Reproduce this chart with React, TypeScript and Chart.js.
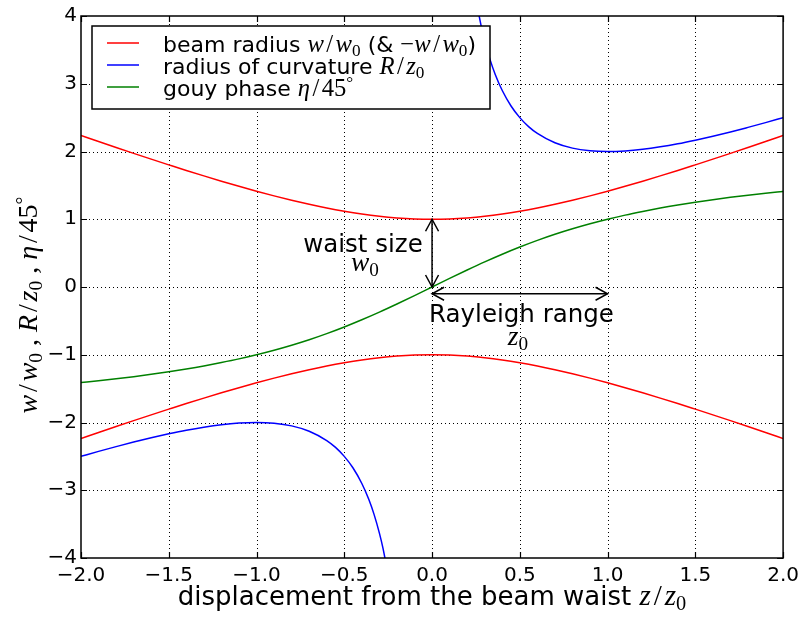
import React, { useEffect, useRef } from 'react';
import { Chart, registerables } from 'chart.js';

Chart.register(...registerables);

// ---------- data ----------
const zValues = [
  -2.0, -1.9, -1.8, -1.7, -1.6, -1.5, -1.4, -1.3, -1.2, -1.1, -1.0,
  -0.9, -0.8, -0.7, -0.6, -0.5, -0.4, -0.3, -0.2, -0.1, 0.0,
  0.1, 0.2, 0.3, 0.4, 0.5, 0.6, 0.7, 0.8, 0.9, 1.0,
  1.1, 1.2, 1.3, 1.4, 1.5, 1.6, 1.7, 1.8, 1.9, 2.0,
];
const beamRadiusUpper = [
  2.236, 2.147, 2.059, 1.972, 1.887, 1.803, 1.720, 1.640, 1.562, 1.487, 1.414,
  1.345, 1.281, 1.221, 1.166, 1.118, 1.077, 1.044, 1.020, 1.005, 1.000,
  1.005, 1.020, 1.044, 1.077, 1.118, 1.166, 1.221, 1.281, 1.345, 1.414,
  1.487, 1.562, 1.640, 1.720, 1.803, 1.887, 1.972, 2.059, 2.147, 2.236,
];
const beamRadiusLower = [
  -2.236, -2.147, -2.059, -1.972, -1.887, -1.803, -1.720, -1.640, -1.562, -1.487, -1.414,
  -1.345, -1.281, -1.221, -1.166, -1.118, -1.077, -1.044, -1.020, -1.005, -1.000,
  -1.005, -1.020, -1.044, -1.077, -1.118, -1.166, -1.221, -1.281, -1.345, -1.414,
  -1.487, -1.562, -1.640, -1.720, -1.803, -1.887, -1.972, -2.059, -2.147, -2.236,
];
const gouyPhase = [
  -1.410, -1.383, -1.354, -1.323, -1.289, -1.251, -1.210, -1.165, -1.115, -1.061, -1.000,
  -0.933, -0.859, -0.778, -0.688, -0.590, -0.484, -0.371, -0.251, -0.127, 0.000,
  0.127, 0.251, 0.371, 0.484, 0.590, 0.688, 0.778, 0.859, 0.933, 1.000,
  1.061, 1.115, 1.165, 1.210, 1.251, 1.289, 1.323, 1.354, 1.383, 1.410,
];
const curvatureZPos = [
  0.25, 0.28, 0.3, 0.33, 0.36, 0.4, 0.45, 0.5, 0.55, 0.6, 0.7, 0.8, 0.9, 1.0,
  1.1, 1.2, 1.3, 1.4, 1.5, 1.6, 1.7, 1.8, 1.9, 2.0,
];
const curvaturePos = [
  4.250, 3.851, 3.633, 3.360, 3.138, 2.900, 2.672, 2.500, 2.368, 2.267, 2.129, 2.050, 2.011, 2.000,
  2.009, 2.033, 2.069, 2.114, 2.167, 2.225, 2.288, 2.356, 2.426, 2.500,
];
const curvatureZNeg = [
  -2.0, -1.9, -1.8, -1.7, -1.6, -1.5, -1.4, -1.3, -1.2, -1.1, -1.0,
  -0.9, -0.8, -0.7, -0.6, -0.55, -0.5, -0.45, -0.4, -0.36, -0.33, -0.3, -0.28, -0.25,
];
const curvatureNeg = [
  -2.500, -2.426, -2.356, -2.288, -2.225, -2.167, -2.114, -2.069, -2.033, -2.009, -2.000,
  -2.011, -2.050, -2.129, -2.267, -2.368, -2.500, -2.672, -2.900, -3.138, -3.360, -3.633, -3.851, -4.250,
];
const xTickValues = [-2.0, -1.5, -1.0, -0.5, 0.0, 0.5, 1.0, 1.5, 2.0];
const xTickLabels = ['\u22122.0', '\u22121.5', '\u22121.0', '\u22120.5', '0.0', '0.5', '1.0', '1.5', '2.0'];
const yTickValues = [-4, -3, -2, -1, 0, 1, 2, 3, 4];
const yTickLabels = ['\u22124', '\u22123', '\u22122', '\u22121', '0', '1', '2', '3', '4'];

const RED = '#ff0000';
const BLUE = '#0000ff';
const GREEN = '#008000';

// ---------- rich text helpers ----------
type Kind = 'sans' | 'mi' | 'mr' | 'sl' | 'sub' | 'sup';
type Seg = { t: string; k: Kind };
const MATH_SCALE = 1.12;
function segFont(k: Kind, size: number) {
  const m = size * MATH_SCALE;
  switch (k) {
    case 'sans': return `${size}px "DejaVu Sans"`;
    case 'mi': return `italic ${m}px "Liberation Serif"`;
    case 'mr': return `${m}px "Liberation Serif"`;
    case 'sl': return `${m}px "Liberation Serif"`;
    case 'sub': return `${m * 0.7}px "Liberation Serif"`;
    case 'sup': return `${m * 0.7}px "Liberation Serif"`;
  }
}
function segPad(k: Kind, size: number) {
  if (k === 'sl') return size * MATH_SCALE * 0.1;
  return 0;
}
function segDy(k: Kind, size: number) {
  if (k === 'sub') return size * 0.2;
  if (k === 'sup') return -size * 0.33;
  return 0;
}
function segWidth(ctx: CanvasRenderingContext2D, s: Seg, size: number) {
  ctx.font = segFont(s.k, size);
  return ctx.measureText(s.t).width + 2 * segPad(s.k, size);
}
function measureRich(ctx: CanvasRenderingContext2D, segs: Seg[], size: number) {
  let w = 0;
  for (const s of segs) w += segWidth(ctx, s, size);
  return w;
}
function drawRich(ctx: CanvasRenderingContext2D, segs: Seg[], x: number, y: number, size: number, align: 'left' | 'center') {
  const total = measureRich(ctx, segs, size);
  let cx = align === 'center' ? x - total / 2 : x;
  ctx.textBaseline = 'alphabetic';
  ctx.textAlign = 'left';
  ctx.fillStyle = '#000';
  for (const s of segs) {
    const w = segWidth(ctx, s, size);
    ctx.font = segFont(s.k, size);
    ctx.fillText(s.t, cx + segPad(s.k, size), y + segDy(s.k, size));
    cx += w;
  }
}

const legendRows: { color: string; segs: Seg[] }[] = [
  { color: RED, segs: [
    { t: 'beam radius ', k: 'sans' }, { t: 'w', k: 'mi' }, { t: '/', k: 'sl' }, { t: 'w', k: 'mi' }, { t: '0', k: 'sub' },
    { t: ' (& ', k: 'sans' }, { t: '\u2212', k: 'mr' }, { t: 'w', k: 'mi' }, { t: '/', k: 'sl' }, { t: 'w', k: 'mi' }, { t: '0', k: 'sub' },
    { t: ')', k: 'sans' },
  ] },
  { color: BLUE, segs: [
    { t: 'radius of curvature ', k: 'sans' }, { t: 'R', k: 'mi' }, { t: '/', k: 'sl' }, { t: 'z', k: 'mi' }, { t: '0', k: 'sub' },
  ] },
  { color: GREEN, segs: [
    { t: 'gouy phase ', k: 'sans' }, { t: '\u03b7', k: 'mi' }, { t: '/', k: 'sl' }, { t: '45', k: 'mr' }, { t: '\u00b0', k: 'sup' },
  ] },
];

const xTitle: Seg[] = [
  { t: 'displacement from the beam waist ', k: 'sans' }, { t: 'z', k: 'mi' }, { t: '/', k: 'sl' }, { t: 'z', k: 'mi' }, { t: '0', k: 'sub' },
];
const yTitle: Seg[] = [
  { t: 'w', k: 'mi' }, { t: '/', k: 'sl' }, { t: 'w', k: 'mi' }, { t: '0', k: 'sub' }, { t: ' , ', k: 'mr' },
  { t: 'R', k: 'mi' }, { t: '/', k: 'sl' }, { t: 'z', k: 'mi' }, { t: '0', k: 'sub' }, { t: ' , ', k: 'mr' },
  { t: '\u03b7', k: 'mi' }, { t: '/', k: 'sl' }, { t: '45', k: 'mr' }, { t: '\u00b0', k: 'sup' },
];

function arrowHead(ctx: CanvasRenderingContext2D, tx: number, ty: number, fx: number, fy: number) {
  const dx = tx - fx, dy = ty - fy;
  const L = Math.hypot(dx, dy) || 1;
  const ux = dx / L, uy = dy / L;
  const len = 12, hw = 6.5;
  ctx.beginPath();
  ctx.moveTo(tx - ux * len + uy * hw, ty - uy * len - ux * hw);
  ctx.lineTo(tx, ty);
  ctx.lineTo(tx - ux * len - uy * hw, ty - uy * len + ux * hw);
  ctx.stroke();
}
function doubleArrow(ctx: CanvasRenderingContext2D, x1: number, y1: number, x2: number, y2: number) {
  ctx.beginPath();
  ctx.moveTo(x1, y1);
  ctx.lineTo(x2, y2);
  ctx.stroke();
  arrowHead(ctx, x1, y1, x2, y2);
  arrowHead(ctx, x2, y2, x1, y1);
}

const decorPlugin = {
  id: 'decor',
  beforeDatasetsDraw(chart: any) {
    const { ctx, chartArea: a, scales } = chart;
    ctx.save();
    ctx.strokeStyle = '#000';
    ctx.lineWidth = 1;
    ctx.setLineDash([1, 3]);
    for (const v of xTickValues.slice(1, -1)) {
      const px = Math.round(scales.x.getPixelForValue(v)) + 0.5;
      ctx.beginPath(); ctx.moveTo(px, a.top); ctx.lineTo(px, a.bottom); ctx.stroke();
    }
    for (const v of yTickValues.slice(1, -1)) {
      const py = Math.round(scales.y.getPixelForValue(v)) + 0.5;
      ctx.beginPath(); ctx.moveTo(a.left, py); ctx.lineTo(a.right, py); ctx.stroke();
    }
    ctx.restore();
  },
  afterDraw(chart: any) {
    const { ctx, chartArea: a, scales } = chart;
    const X = (v: number) => scales.x.getPixelForValue(v);
    const Y = (v: number) => scales.y.getPixelForValue(v);
    ctx.save();
    // ticks (inward, all four sides)
    ctx.strokeStyle = '#000';
    ctx.lineWidth = 1.2;
    const tl = 6;
    for (const v of xTickValues) {
      const px = Math.round(X(v)) + 0.5;
      ctx.beginPath();
      ctx.moveTo(px, a.bottom); ctx.lineTo(px, a.bottom - tl);
      ctx.moveTo(px, a.top); ctx.lineTo(px, a.top + tl);
      ctx.stroke();
    }
    for (const v of yTickValues) {
      const py = Math.round(Y(v)) + 0.5;
      ctx.beginPath();
      ctx.moveTo(a.left, py); ctx.lineTo(a.left + tl, py);
      ctx.moveTo(a.right, py); ctx.lineTo(a.right - tl, py);
      ctx.stroke();
    }
    // frame
    ctx.lineWidth = 1.5;
    ctx.strokeRect(a.left, a.top, a.right - a.left, a.bottom - a.top);

    // arrows
    ctx.lineWidth = 1.5;
    doubleArrow(ctx, X(0), Y(1), X(0), Y(0));
    doubleArrow(ctx, X(0), Y(-0.1), X(1), Y(-0.1));

    // annotation texts
    drawRich(ctx, [{ t: 'waist size', k: 'sans' }], 363, 252, 24.5, 'center');
    drawRich(ctx, [{ t: 'w', k: 'mi' }, { t: '0', k: 'sub' }], 365, 271, 24.5, 'center');
    drawRich(ctx, [{ t: 'Rayleigh range', k: 'sans' }], 521.5, 322, 24.5, 'center');
    drawRich(ctx, [{ t: 'z', k: 'mi' }, { t: '0', k: 'sub' }], 518, 345, 24.5, 'center');

    // legend
    const lx = 92, ly = 26, lw = 398, lh = 83;
    ctx.fillStyle = '#fff';
    ctx.fillRect(lx, ly, lw, lh);
    ctx.strokeStyle = '#000';
    ctx.lineWidth = 1.5;
    ctx.strokeRect(lx, ly, lw, lh);
    const rowY = [43, 65, 87];
    legendRows.forEach((r, i) => {
      ctx.strokeStyle = r.color;
      ctx.lineWidth = 1.5;
      ctx.beginPath();
      ctx.moveTo(107, rowY[i]); ctx.lineTo(139, rowY[i]);
      ctx.stroke();
      drawRich(ctx, r.segs, 163, rowY[i] + 8.5, 22, 'left');
    });

    // axis titles
    drawRich(ctx, xTitle, 432, 605, 26, 'center');
    ctx.translate(37, 305);
    ctx.rotate(-Math.PI / 2);
    drawRich(ctx, yTitle, 0, 0, 25, 'center');
    ctx.restore();
  },
};

function pts(xs: number[], ys: number[]) {
  return xs.map((x, i) => ({ x, y: ys[i] }));
}

export default function App() {
  const ref = useRef<HTMLCanvasElement | null>(null);
  useEffect(() => {
    const canvas = ref.current;
    if (!canvas) return;
    const common = {
      borderWidth: 1.5,
      pointRadius: 0,
      fill: false,
      cubicInterpolationMode: 'monotone' as const,
      clip: 0,
    };
    const chart = new Chart(canvas, {
      type: 'line',
      data: {
        datasets: [
          { ...common, label: 'beam radius', data: pts(zValues, beamRadiusUpper), borderColor: RED },
          { ...common, label: 'beam radius (neg)', data: pts(zValues, beamRadiusLower), borderColor: RED },
          { ...common, label: 'radius of curvature', data: pts(curvatureZPos, curvaturePos), borderColor: BLUE },
          { ...common, label: 'radius of curvature (neg)', data: pts(curvatureZNeg, curvatureNeg), borderColor: BLUE },
          { ...common, label: 'gouy phase', data: pts(zValues, gouyPhase), borderColor: GREEN },
        ],
      },
      options: {
        responsive: false,
        animation: false,
        devicePixelRatio: 1,
        layout: { padding: { top: 15, right: 21, left: 0, bottom: 0 } },
        plugins: { legend: { display: false }, tooltip: { enabled: false } },
        scales: {
          x: {
            type: 'linear',
            min: -2,
            max: 2,
            afterFit: (s: any) => { s.height = 61; },
            afterBuildTicks: (s: any) => { s.ticks = xTickValues.map((v) => ({ value: v })); },
            grid: { display: false, drawTicks: false },
            border: { display: false },
            ticks: {
              padding: 6,
              color: '#000',
              font: { family: '"DejaVu Sans"', size: 20 },
              maxRotation: 0,
              autoSkip: false,
              callback: (_v: any, i: number) => xTickLabels[i],
            },
          },
          y: {
            type: 'linear',
            min: -4,
            max: 4,
            afterFit: (s: any) => { s.width = 81; },
            afterBuildTicks: (s: any) => { s.ticks = yTickValues.map((v) => ({ value: v })); },
            grid: { display: false, drawTicks: false },
            border: { display: false },
            ticks: {
              padding: 4,
              color: '#000',
              font: { family: '"DejaVu Sans"', size: 20 },
              autoSkip: false,
              callback: (_v: any, i: number) => yTickLabels[i],
            },
          },
        },
      },
      plugins: [decorPlugin],
    } as any);
    return () => chart.destroy();
  }, []);
  return (
    <div style={{ position: 'fixed', left: 0, top: 0, width: 805, height: 619, background: '#fff' }}>
      <canvas ref={ref} width={805} height={619} style={{ display: 'block' }} />
    </div>
  );
}
